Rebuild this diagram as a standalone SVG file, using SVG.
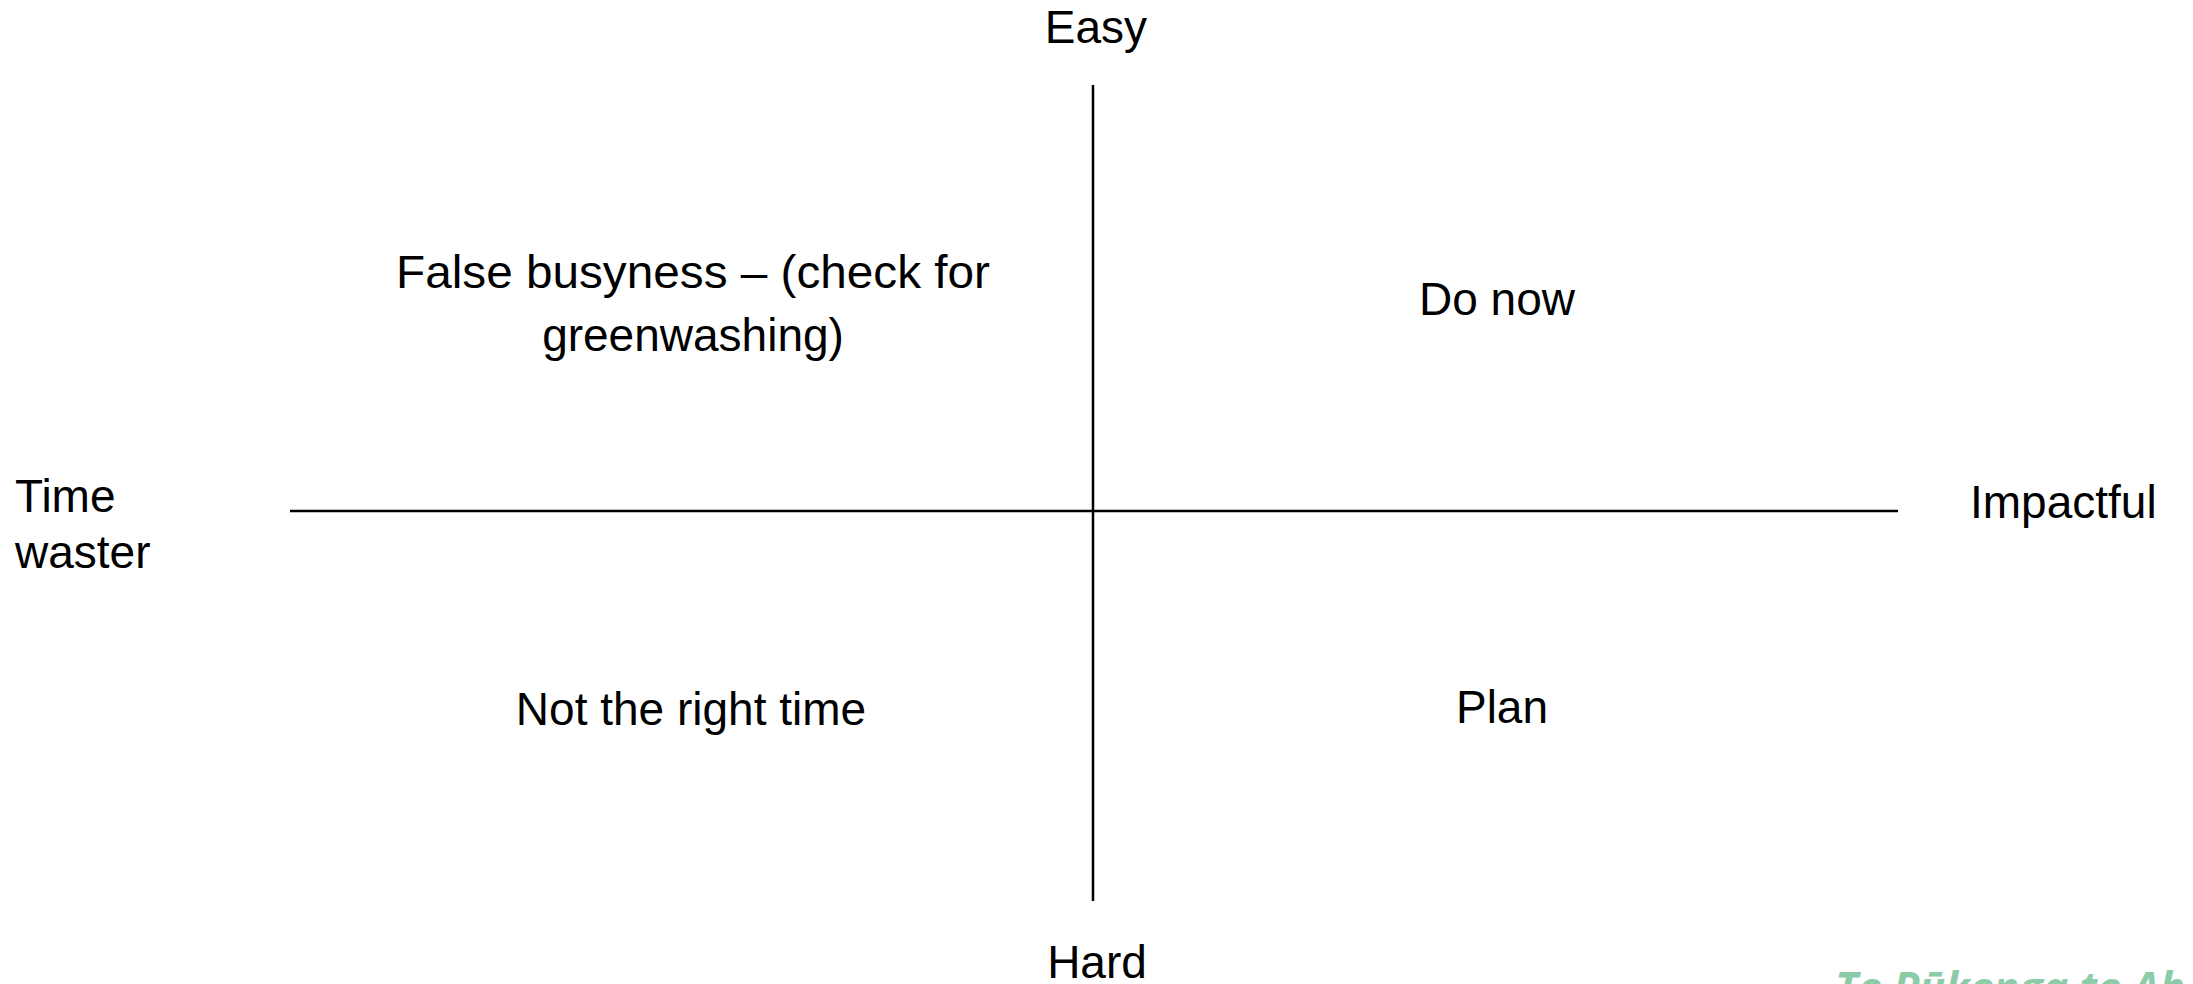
<svg xmlns="http://www.w3.org/2000/svg" width="2193" height="984" viewBox="0 0 2193 984">
<style>
.t{font-family:"Liberation Sans",Arial,sans-serif;font-size:46px;fill:#000}
.ax{stroke:#000;stroke-width:2.5;fill:none}
.brand{font-family:"Open Sans","Liberation Sans",sans-serif;font-size:43px;font-weight:bold;font-style:italic;fill:#8ccba8}
</style>
<rect width="2193" height="984" fill="#fff"/>
<g id="connectors">
<line class="ax" x1="1093" y1="85" x2="1093" y2="901"/>
<line class="ax" x1="290" y1="511" x2="1898" y2="511"/>
</g>
<g id="easy"><text class="t" x="1096" y="43" text-anchor="middle">Easy</text></g>
<g id="hard"><text class="t" x="1097" y="978" text-anchor="middle">Hard</text></g>
<g id="time-waster"><text class="t" x="15" y="512">Time</text><text class="t" x="15" y="568">waster</text></g>
<g id="impactful"><text class="t" x="1970" y="518">Impactful</text></g>
<g id="false-busyness">
<text class="t" x="396" y="288" font-size="48" textLength="594" lengthAdjust="spacingAndGlyphs">False busyness – (check for</text>
<text class="t" x="693" y="351" font-size="48" text-anchor="middle">greenwashing)</text>
</g>
<g id="do-now"><text class="t" x="1497" y="315" text-anchor="middle">Do now</text></g>
<g id="not-right-time"><text class="t" x="691" y="725" text-anchor="middle">Not the right time</text></g>
<g id="plan"><text class="t" x="1502" y="723" text-anchor="middle">Plan</text></g>
<g id="brand"><text class="brand" x="1835" y="1003">Te Pūkenga te Ah</text></g>
</svg>
